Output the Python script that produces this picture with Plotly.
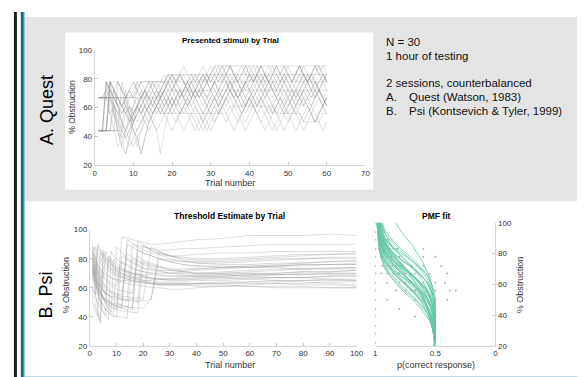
import plotly.graph_objects as go

W, H = 585, 377

# ---------------- data: A. Quest (presented stimuli by trial) ----------------
QUEST_TRIALS = list(range(1, 61))
quest_series = [
    [67,67,67,67,67,67,67,67,67,67,67,67,67,67,67,67,67,72,72,72,72,72,72,72,72,72,72,72,72,72,78,78,78,78,78,78,78,78,78,78,78,78,78,78,78,78,78,78,78,78,78,78,78,78,78,78,78,78,78,78],
    [44,44,44,78,72,61,50,39,44,56,61,67,72,61,56,61,67,72,78,83,78,72,67,72,78,83,78,72,78,83,89,89,89,89,89,89,89,89,89,89,89,89,89,89,89,89,89,89,89,89,89,89,89,89,89,89,89,89,89,89],
    [44,44,78,67,56,44,33,44,56,61,67,61,56,50,56,61,67,72,67,61,67,72,78,72,67,72,78,72,67,72,78,72,67,72,78,72,67,72,78,83,78,72,78,83,78,72,67,72,78,72,67,72,78,83,78,72,78,72,67,72],
    [44,44,44,44,61,50,39,28,39,50,61,67,72,67,61,56,61,67,61,56,50,56,61,56,50,44,50,56,61,67,61,56,61,67,72,67,61,56,50,56,61,67,72,67,61,56,61,67,61,56,61,67,72,67,61,56,50,56,61,67],
    [67,67,72,78,72,67,61,67,72,67,61,56,61,67,72,78,72,78,83,78,72,67,72,78,83,78,83,89,83,78,83,89,83,78,72,78,83,89,83,78,83,89,83,78,83,89,83,78,83,89,83,78,83,89,83,78,83,89,83,78],
    [44,44,44,78,72,67,61,56,50,44,39,28,39,50,56,61,67,61,56,61,67,61,56,61,67,72,67,61,67,72,67,61,67,72,78,72,67,72,78,72,67,61,67,72,67,61,56,61,67,72,67,61,67,72,78,72,67,72,67,61],
    [67,67,67,61,56,50,44,39,33,39,44,50,56,61,56,61,56,61,67,61,56,50,44,50,56,61,56,50,56,61,67,61,56,50,56,61,56,50,44,50,56,61,67,61,56,50,44,50,56,61,67,61,56,50,56,61,56,50,44,50],
    [44,44,78,72,67,61,56,61,67,72,78,72,67,72,78,72,67,72,78,83,78,83,78,72,78,83,78,83,78,72,78,83,89,83,78,83,78,72,78,83,89,83,78,83,89,83,78,72,78,83,78,83,89,83,78,83,78,72,78,83],
    [67,67,67,72,67,61,56,61,56,50,56,61,67,61,67,72,67,72,67,61,67,72,67,61,67,72,67,72,67,61,67,61,67,72,67,61,67,72,67,61,67,72,67,61,56,61,67,72,67,61,67,72,67,61,67,61,67,72,67,61],
    [44,44,44,44,44,78,72,67,56,44,33,44,56,61,67,61,56,61,67,72,67,61,67,72,78,72,67,72,78,83,78,72,78,83,78,72,67,72,78,72,78,83,78,72,78,83,89,83,78,83,78,72,78,83,78,72,78,72,78,83],
    [67,67,67,67,67,67,61,56,61,56,61,56,61,56,56,56,56,56,56,56,56,56,56,56,56,56,56,56,56,56,56,56,56,56,61,61,61,61,61,61,61,61,61,61,61,61,56,56,56,56,56,56,56,50,50,50,50,50,56,56],
    [44,44,44,78,78,78,72,61,50,61,72,78,78,78,78,78,78,78,83,83,83,83,83,83,83,83,83,83,83,83,83,83,83,83,83,83,83,83,83,83,83,83,83,83,83,83,83,83,83,83,83,83,83,83,83,83,83,83,83,83],
    [67,67,72,67,61,56,50,44,50,56,61,67,72,78,72,67,61,56,50,44,50,56,61,67,72,67,61,56,50,44,50,56,61,67,72,67,61,56,61,67,61,56,50,44,50,56,61,67,72,67,61,56,50,44,50,56,61,67,61,56],
    [44,44,44,44,72,61,50,44,39,33,39,44,50,56,61,67,61,67,72,78,72,67,72,78,72,67,72,78,83,78,72,67,72,78,83,78,72,78,83,89,83,78,72,78,83,78,72,78,83,78,72,67,72,78,83,78,72,78,83,78],
    [67,67,67,78,72,67,61,67,72,78,72,67,61,56,50,44,28,44,56,61,67,72,67,61,67,72,67,72,78,72,67,72,67,61,67,72,67,61,67,72,67,61,67,72,78,72,67,61,56,61,67,72,67,61,67,72,67,72,67,61],
    [44,44,78,72,67,61,67,61,56,50,44,50,56,61,67,72,78,83,78,72,78,83,78,72,67,72,78,83,78,83,89,83,78,83,89,83,78,72,78,83,78,83,89,83,78,83,89,83,78,72,78,83,89,83,78,83,89,83,78,83],
    [67,67,67,67,61,56,61,67,72,67,72,78,72,67,61,67,72,67,61,56,61,67,72,67,61,67,72,67,61,56,61,67,72,78,72,67,72,67,61,67,72,78,72,67,72,78,72,67,61,67,72,67,72,78,72,67,72,67,61,67],
    [44,44,44,67,56,44,39,44,50,56,61,56,50,44,50,56,61,56,61,67,61,56,61,67,61,56,50,44,50,56,61,56,61,67,61,56,50,56,61,67,61,56,61,56,50,44,50,56,61,67,61,56,61,67,61,56,50,56,61,67],
    [67,67,67,67,67,67,67,67,67,67,78,78,78,78,78,78,78,78,78,78,78,78,78,78,78,78,78,78,78,78,78,72,72,72,72,72,72,72,72,72,72,72,72,72,72,72,72,72,72,72,72,72,72,72,72,72,72,72,72,72],
    [44,44,44,44,44,44,78,67,56,44,39,28,39,50,56,61,67,72,78,83,78,72,67,61,56,50,44,50,56,61,67,72,78,83,89,83,78,72,67,72,78,83,78,72,67,61,56,50,44,50,56,61,67,72,78,83,78,72,67,61],
    [67,67,67,56,44,33,44,56,61,56,50,56,61,67,61,67,72,78,72,67,61,67,72,78,83,78,72,78,83,89,83,78,83,89,89,83,78,83,89,83,78,83,89,83,78,72,78,83,89,83,78,83,89,83,78,83,89,89,83,78],
    [44,44,44,44,44,44,44,72,61,50,56,61,67,72,78,72,67,61,67,72,78,83,78,72,67,61,56,50,44,50,56,61,67,72,78,72,67,61,56,61,67,72,78,83,78,72,67,61,56,50,56,61,67,72,67,61,67,72,78,72],
    [67,67,67,67,72,78,72,67,72,78,72,67,72,78,72,67,72,78,83,78,83,78,83,78,72,78,83,78,83,78,83,78,83,78,72,78,83,78,72,78,83,78,83,78,72,78,83,78,83,78,72,78,83,78,83,78,72,78,83,78],
    [44,44,44,78,61,44,33,28,39,50,61,72,61,56,50,44,50,56,61,67,61,56,61,67,72,67,61,56,61,56,50,56,61,56,50,44,50,56,61,67,61,56,50,56,61,56,61,67,61,56,50,44,50,56,61,56,50,56,61,56],
    [67,67,61,56,61,67,61,56,50,56,61,67,72,67,72,67,72,67,61,67,72,67,72,78,72,67,72,67,61,67,72,67,61,67,72,67,72,67,61,67,72,67,61,67,72,67,72,78,72,67,72,67,61,67,72,67,72,67,61,67],
    [44,44,78,72,61,56,44,39,44,50,56,61,67,72,67,61,67,72,78,72,78,83,89,83,78,72,78,83,78,72,78,83,89,83,89,83,78,83,89,83,78,83,89,83,78,83,89,83,89,83,78,83,89,83,78,83,89,83,89,83],
]

# ---------------- data: B. Psi (threshold estimate by trial) ----------------
PSI_TRIALS = [1,2,3,4,5,6,7,8,9,10,12,14,16,18,20,23,26,30,35,40,50,60,70,80,90,100]
psi_series = [
    [72,58,45,36,86,82,79,76,74,72,70,69,68,67,67,66,66,66,67,68,69,70,70,71,71,72],
    [80,68,90,86,83,80,78,76,74,73,72,71,70,70,69,69,68,68,68,69,70,71,72,73,73,74],
    [75,65,57,50,44,40,38,85,82,80,77,75,73,72,71,70,70,70,71,72,73,74,75,76,76,77],
    [78,70,64,58,53,49,46,44,43,88,84,80,78,76,74,73,72,72,72,73,74,75,76,77,78,79],
    [70,64,59,55,52,50,48,47,46,45,95,94,93,92,91,90,90,91,92,93,94,96,96,96,97,96],
    [82,75,69,64,60,57,55,53,51,50,48,93,91,89,88,87,86,86,87,87,88,89,90,90,90,90],
    [85,78,72,67,63,60,58,56,55,54,52,51,90,88,86,84,83,82,82,83,84,84,85,85,85,85],
    [68,62,58,55,53,52,51,50,49,49,48,47,46,92,89,86,84,82,81,80,80,81,82,83,83,84],
    [76,70,65,61,58,56,55,54,53,52,52,51,51,50,90,86,83,80,78,77,77,78,79,80,80,80],
    [80,74,69,65,62,60,58,57,56,55,54,54,53,53,52,88,85,82,80,79,79,80,81,82,83,83],
    [72,67,63,60,58,56,55,54,54,53,53,52,52,51,51,52,85,82,79,77,76,76,77,77,78,78],
    [85,80,76,73,71,69,68,67,66,66,65,65,64,64,64,63,63,63,63,63,64,64,65,65,66,66],
    [50,45,40,85,81,78,75,73,71,70,68,67,66,65,64,63,62,62,62,62,62,61,61,61,60,60],
    [62,55,88,84,80,77,74,72,70,69,67,66,65,64,63,63,62,62,62,63,63,64,64,65,65,65],
    [84,78,73,69,66,85,82,79,77,75,73,71,70,69,68,67,66,66,66,66,66,67,67,67,68,68],
    [78,71,66,62,58,55,82,79,76,74,72,70,69,68,67,66,66,65,65,66,67,68,69,69,70,70],
    [74,67,61,56,52,49,46,43,80,77,74,72,70,69,68,67,66,66,66,67,68,69,70,71,71,72],
    [88,82,77,73,70,67,65,63,62,61,82,79,77,75,73,72,71,70,70,70,71,72,73,73,74,74],
    [66,60,55,51,48,45,43,41,40,40,78,76,74,72,71,70,69,68,68,68,68,69,69,70,70,70],
    [82,76,71,67,64,62,60,58,57,56,55,84,81,79,77,75,74,73,73,73,74,75,75,76,76,76],
    [70,63,57,52,48,45,43,42,41,40,40,39,80,78,76,74,72,70,69,68,67,66,65,64,63,62],
    [86,80,75,71,68,65,63,61,60,59,58,57,56,82,79,77,75,73,71,70,69,68,67,67,66,65],
    [76,69,63,58,54,51,49,47,46,45,44,44,43,43,78,76,74,72,71,70,70,70,69,69,69,69],
    [60,54,50,46,43,41,80,77,74,72,70,68,67,66,65,64,63,63,63,63,63,63,63,62,62,61],
    [90,85,81,77,74,71,69,67,66,65,64,63,62,62,61,60,60,59,59,60,61,62,63,63,64,64],
    [73,66,60,56,53,51,50,49,48,48,47,47,46,46,46,52,80,78,76,75,74,74,75,75,76,76],
    [55,48,42,36,84,80,77,74,72,71,69,68,67,66,65,65,64,64,64,65,65,66,67,67,68,68],
    [80,73,67,62,58,55,52,50,48,47,46,90,88,86,84,82,80,79,78,78,78,79,80,80,81,81],
    [72,66,61,57,54,52,50,49,48,47,46,45,45,86,84,82,80,78,76,75,75,74,74,73,73,73],
    [85,88,84,80,77,74,72,70,69,68,67,66,65,64,64,63,62,62,62,61,61,61,60,60,60,60],
]

# ---------------- data: PMF fit curves (p(correct) at each obstruction level) ----------------
PMF_LEVELS = [100,95,90,85,80,75,70,65,60,55,50,45,40,35,30,25,20]
pmf_curves = [
    [0.97,0.96,0.94,0.92,0.87,0.81,0.74,0.67,0.61,0.56,0.54,0.52,0.51,0.51,0.50,0.50,0.50],
    [0.96,0.94,0.92,0.87,0.81,0.74,0.67,0.61,0.56,0.54,0.52,0.51,0.51,0.50,0.50,0.50,0.50],
    [0.97,0.97,0.96,0.94,0.92,0.87,0.81,0.74,0.67,0.61,0.56,0.54,0.52,0.51,0.51,0.50,0.50],
    [0.98,0.97,0.97,0.96,0.94,0.92,0.87,0.81,0.74,0.67,0.61,0.56,0.54,0.52,0.51,0.51,0.50],
    [0.98,0.98,0.97,0.97,0.96,0.94,0.92,0.87,0.81,0.74,0.67,0.61,0.56,0.54,0.52,0.51,0.51],
    [0.94,0.92,0.87,0.81,0.74,0.67,0.61,0.56,0.54,0.52,0.51,0.51,0.50,0.50,0.50,0.50,0.50],
    [0.97,0.96,0.95,0.91,0.85,0.77,0.68,0.61,0.56,0.53,0.51,0.50,0.50,0.50,0.50,0.50,0.50],
    [0.98,0.97,0.96,0.95,0.91,0.85,0.77,0.68,0.61,0.56,0.53,0.51,0.50,0.50,0.50,0.50,0.50],
    [0.98,0.98,0.97,0.96,0.95,0.92,0.86,0.78,0.69,0.62,0.56,0.53,0.51,0.50,0.50,0.50,0.50],
    [0.97,0.95,0.92,0.86,0.78,0.69,0.62,0.56,0.53,0.51,0.50,0.50,0.50,0.50,0.50,0.50,0.50],
    [0.96,0.95,0.93,0.90,0.86,0.80,0.74,0.68,0.63,0.59,0.56,0.54,0.52,0.51,0.51,0.50,0.50],
    [0.97,0.96,0.95,0.93,0.90,0.86,0.80,0.74,0.68,0.63,0.59,0.56,0.54,0.52,0.51,0.51,0.50],
    [0.97,0.97,0.96,0.95,0.93,0.90,0.86,0.80,0.74,0.68,0.63,0.59,0.56,0.54,0.52,0.51,0.51],
    [0.95,0.93,0.90,0.86,0.80,0.74,0.68,0.63,0.59,0.56,0.54,0.52,0.51,0.51,0.50,0.50,0.50],
    [0.98,0.97,0.96,0.94,0.91,0.87,0.82,0.76,0.69,0.63,0.58,0.54,0.52,0.51,0.50,0.50,0.50],
    [0.97,0.96,0.94,0.91,0.87,0.82,0.76,0.69,0.63,0.58,0.54,0.52,0.51,0.50,0.50,0.50,0.50],
    [0.98,0.98,0.97,0.96,0.94,0.91,0.87,0.82,0.76,0.69,0.63,0.58,0.54,0.52,0.51,0.50,0.50],
    [0.99,0.98,0.98,0.97,0.96,0.94,0.91,0.87,0.82,0.76,0.69,0.63,0.58,0.54,0.52,0.51,0.50],
    [0.96,0.93,0.89,0.83,0.76,0.69,0.63,0.58,0.55,0.53,0.51,0.51,0.50,0.50,0.50,0.50,0.50],
    [0.98,0.97,0.95,0.93,0.89,0.84,0.78,0.71,0.65,0.60,0.56,0.53,0.52,0.51,0.50,0.50,0.50],
    [0.97,0.97,0.96,0.95,0.93,0.89,0.84,0.78,0.71,0.65,0.60,0.56,0.53,0.52,0.51,0.50,0.50],
    [0.98,0.97,0.97,0.96,0.95,0.93,0.90,0.85,0.79,0.72,0.66,0.60,0.56,0.53,0.52,0.51,0.50],
    [0.97,0.96,0.95,0.92,0.88,0.82,0.75,0.68,0.62,0.57,0.54,0.52,0.51,0.50,0.50,0.50,0.50],
    [0.98,0.97,0.96,0.95,0.92,0.88,0.82,0.75,0.68,0.62,0.57,0.54,0.52,0.51,0.50,0.50,0.50],
    [0.99,0.98,0.97,0.96,0.95,0.92,0.88,0.82,0.75,0.68,0.62,0.57,0.54,0.52,0.51,0.50,0.50],
    [0.95,0.94,0.92,0.89,0.85,0.80,0.75,0.70,0.66,0.62,0.59,0.57,0.55,0.53,0.52,0.51,0.50],
    [0.96,0.95,0.93,0.91,0.88,0.84,0.79,0.74,0.69,0.64,0.60,0.57,0.55,0.53,0.52,0.51,0.50],
    [0.97,0.96,0.94,0.90,0.84,0.76,0.68,0.61,0.56,0.53,0.51,0.50,0.50,0.50,0.50,0.50,0.50],
    [0.98,0.97,0.96,0.94,0.90,0.84,0.76,0.68,0.61,0.56,0.53,0.51,0.50,0.50,0.50,0.50,0.50],
    [0.83,0.79,0.74,0.69,0.65,0.61,0.58,0.55,0.53,0.52,0.51,0.51,0.50,0.50,0.50,0.50,0.50],
]

# raw response proportions (grey dots)
dot_p = [1,1,1,1,1,1,1,1,1,1,1,1,1,1,1,
         0.95,0.93,0.90,0.97,0.92,0.88,0.85,0.82,0.60,0.95,0.90,0.87,0.80,0.60,0.50,
         0.94,0.90,0.86,0.83,0.78,0.70,0.60,0.45,0.95,0.90,0.85,0.80,0.75,0.67,0.55,0.40,
         0.90,0.80,0.75,0.70,0.60,0.50,0.42,0.83,0.75,0.70,0.67,0.50,0.38,0.33,
         0.90,0.67,0.60,0.50,0.40,0.80,0.50,0.67,0.50]
dot_y = [100,94,89,83,78,72,67,61,56,50,44,39,33,28,22,
         94,89,89,83,83,83,83,83,83,78,78,78,78,78,78,
         72,72,72,72,72,72,72,72,67,67,67,67,67,67,67,67,
         61,61,61,61,61,61,61,56,56,56,56,56,56,56,
         50,50,50,50,50,44,44,39,39]

# ---------------- helpers ----------------
def px(x):
    return x / W

def py(y):
    return 1 - y / H

FONT = "Liberation Sans, Arial, Helvetica, sans-serif"
GREY_LINE = "rgba(150,150,150,0.42)"
GREEN = "rgba(100,200,168,0.85)"

fig = go.Figure()

for s in quest_series:
    fig.add_trace(go.Scatter(x=QUEST_TRIALS, y=s, mode="lines", xaxis="x", yaxis="y",
                             line=dict(color=GREY_LINE, width=0.7), hoverinfo="skip", showlegend=False))
for s in psi_series:
    fig.add_trace(go.Scatter(x=PSI_TRIALS, y=s, mode="lines", xaxis="x2", yaxis="y2",
                             line=dict(color=GREY_LINE, width=0.8), hoverinfo="skip", showlegend=False))
fig.add_trace(go.Scatter(x=dot_p, y=dot_y, mode="markers", xaxis="x3", yaxis="y3",
                         marker=dict(color="rgba(120,120,120,0.6)", size=2), hoverinfo="skip", showlegend=False))
for c in pmf_curves:
    fig.add_trace(go.Scatter(x=c, y=PMF_LEVELS, mode="lines", xaxis="x3", yaxis="y3",
                             line=dict(color=GREEN, width=1, shape="spline", smoothing=0.8),
                             hoverinfo="skip", showlegend=False))

axis_common = dict(showgrid=False, zeroline=False, showline=True, linecolor="#d4d4d4", linewidth=1,
                   ticks="inside", ticklen=3, tickcolor="#c8c8c8",
                   tickfont=dict(family=FONT, size=8, color="#333333"), fixedrange=True)

fig.update_layout(
    width=W, height=H, margin=dict(l=0, r=0, t=0, b=0),
    paper_bgcolor="white", plot_bgcolor="rgba(0,0,0,0)",
    xaxis=dict(domain=[px(86), px(361)], range=[0, 70], tickvals=[0,10,20,30,40,50,60,70],
               anchor="y", **axis_common),
    yaxis=dict(domain=[py(157), py(39)], range=[20, 100], tickvals=[20,40,60,80,100],
               anchor="x", **axis_common),
    xaxis2=dict(domain=[px(81), px(352)], range=[0, 100], tickvals=list(range(0, 101, 10)),
                anchor="y2", **axis_common),
    yaxis2=dict(domain=[py(342), py(223)], range=[20, 100], tickvals=[20,40,60,80,100],
                anchor="x2", **axis_common),
    xaxis3=dict(domain=[px(371), px(493)], range=[1, 0], tickvals=[1, 0.5, 0], ticktext=["1", "0.5", "0"],
                anchor="y3", **axis_common),
    yaxis3=dict(domain=[py(342), py(216)], range=[20, 100], tickvals=[20,40,60,80,100], side="right",
                anchor="x3", **axis_common),
)

shapes = [
    dict(type="rect", xref="paper", yref="paper", x0=px(15), x1=px(585), y0=py(194), y1=py(5),
         fillcolor="#e4e4e4", line=dict(width=0), layer="below"),
    dict(type="rect", xref="paper", yref="paper", x0=px(56), x1=px(369), y0=py(182), y1=py(21),
         fillcolor="white", line=dict(width=0), layer="below"),
    dict(type="rect", xref="paper", yref="paper", x0=px(4), x1=px(7), y0=0, y1=1,
         fillcolor="#1c1c1c", line=dict(width=0)),
    dict(type="rect", xref="paper", yref="paper", x0=px(11), x1=px(14), y0=0, y1=1,
         fillcolor="#0f6a82", line=dict(width=0)),
    dict(type="rect", xref="paper", yref="paper", x0=px(14), x1=px(15), y0=0, y1=1,
         fillcolor="#7fb3c4", line=dict(width=0)),
    dict(type="rect", xref="paper", yref="paper", x0=px(11), x1=1, y0=0, y1=py(374.5),
         fillcolor="#0f6a82", line=dict(width=0)),
    dict(type="rect", xref="paper", yref="paper", x0=px(15), x1=1, y0=py(374.5), y1=py(373.5),
         fillcolor="#7fb3c4", line=dict(width=0)),
]
fig.update_layout(shapes=shapes)

def ann(text, x, y, size=9, bold=False, color="#222222", xanchor="center", angle=0):
    t = f"<b>{text}</b>" if bold else text
    fig.add_annotation(text=t, x=px(x), y=py(y), xref="paper", yref="paper", showarrow=False,
                       xanchor=xanchor, yanchor="middle", textangle=angle,
                       font=dict(family=FONT, size=size, color=color))

# panel labels
ann("A. Quest", 37, 100, size=18, color="black", angle=-90)
ann("B. Psi", 37, 290, size=18, color="black", angle=-90)

# titles
ann("Presented stimuli by Trial", 224, 29, size=8, bold=True, color="black")
ann("Threshold Estimate by Trial", 223, 209, size=8.5, bold=True, color="black")
ann("PMF fit", 433, 209, size=8.5, bold=True, color="black")

# axis titles
ann("Trial number", 223, 175, size=9, color="#333333")
ann("% Obstruction", 63, 97, size=8.5, color="#333333", angle=-90)
ann("Trial number", 223, 362, size=9, color="#333333")
ann("% Obstruction", 57, 280, size=9, color="#333333", angle=-90)
ann("% Obstruction", 518, 280, size=9, color="#333333", angle=-90)
ann("p(correct response)", 433, 362, size=9, color="#333333")

# info text
INFO = 11.5
ann("N = 30", 380, 31, size=INFO, color="#111111", xanchor="left")
ann("1 hour of testing", 380, 45, size=INFO, color="#111111", xanchor="left")
ann("2 sessions, counterbalanced", 380, 73, size=INFO, color="#111111", xanchor="left")
ann("A.", 380, 87, size=INFO, color="#111111", xanchor="left")
ann("Quest (Watson, 1983)", 403, 87, size=INFO, color="#111111", xanchor="left")
ann("B.", 380, 101, size=INFO, color="#111111", xanchor="left")
ann("Psi (Kontsevich &amp; Tyler, 1999)", 403, 101, size=INFO, color="#111111", xanchor="left")

fig.write_html("out.html")
